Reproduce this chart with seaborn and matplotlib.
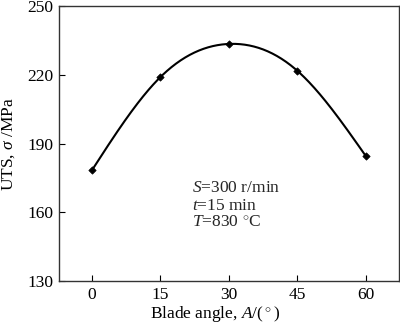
import numpy as np
import pandas as pd
import matplotlib
matplotlib.use("Agg")
import matplotlib.pyplot as plt
import seaborn as sns

# Blade angle (deg) and ultimate tensile strength (MPa)
blade_angle = [0, 15, 30, 45, 60]
uts = [178.3, 219.0, 233.5, 221.8, 184.6]

x_ticks = [0, 15, 30, 45, 60]
y_ticks = [130, 160, 190, 220, 250]


def natural_spline(x, y, xs):
    """Natural cubic spline through (x, y), evaluated at xs."""
    x = np.asarray(x, float)
    y = np.asarray(y, float)
    n = len(x)
    h = np.diff(x)
    A = np.zeros((n, n))
    b = np.zeros(n)
    A[0, 0] = A[-1, -1] = 1.0
    for i in range(1, n - 1):
        A[i, i - 1] = h[i - 1]
        A[i, i] = 2 * (h[i - 1] + h[i])
        A[i, i + 1] = h[i]
        b[i] = 3 * ((y[i + 1] - y[i]) / h[i] - (y[i] - y[i - 1]) / h[i - 1])
    c = np.linalg.solve(A, b)
    out = np.empty_like(xs)
    for k, xv in enumerate(xs):
        i = min(np.searchsorted(x, xv, side="right") - 1, n - 2)
        i = max(i, 0)
        dx = xv - x[i]
        bi = (y[i + 1] - y[i]) / h[i] - h[i] * (2 * c[i] + c[i + 1]) / 3
        di = (c[i + 1] - c[i]) / (3 * h[i])
        out[k] = y[i] + bi * dx + c[i] * dx ** 2 + di * dx ** 3
    return out


sns.set_theme(style="ticks")
plt.rcParams["font.family"] = ["Liberation Serif", "DejaVu Serif"]
plt.rcParams["mathtext.fontset"] = "custom"
plt.rcParams["mathtext.rm"] = "Liberation Serif"
plt.rcParams["mathtext.it"] = "Liberation Serif:italic"

FS = 12.5

points = pd.DataFrame({"angle": blade_angle, "uts": uts})
xs = np.linspace(min(blade_angle), max(blade_angle), 300)
curve = pd.DataFrame({"angle": xs, "uts": natural_spline(blade_angle, uts, xs)})

fig = plt.figure(figsize=(4.0, 3.23), dpi=100)
ax = fig.add_axes([0.1475, 0.130, 0.849, 0.851])

sns.lineplot(data=curve, x="angle", y="uts", ax=ax, color="black", linewidth=1.5)
sns.scatterplot(data=points, x="angle", y="uts", ax=ax, color="black",
                marker="D", s=14, edgecolor="black", linewidth=0.5, zorder=3)

ax.set_xlim(-7.2, 67.2)
ax.set_ylim(130, 250)
ax.set_xticks(x_ticks)
ax.set_yticks(y_ticks)
ax.tick_params(direction="in", length=4, width=0.8, labelsize=FS,
               colors="black", pad=4)
for s in ax.spines.values():
    s.set_color("#333333")
    s.set_linewidth(1.0)

ax.set_xlabel(r"Blade angle, $\mathit{A}$/($\,^{\circ}\,$)", fontsize=FS,
              color="black")
ax.set_ylabel(r"UTS, $\mathit{\sigma}$ /MPa", fontsize=FS, color="black")
ax.xaxis.set_label_coords(0.46, -0.085)
ax.xaxis.label.set_verticalalignment("top")
ax.yaxis.set_label_coords(-0.125, 0.5)

ax.text(21.9, 168.7, r"$\mathit{S}$=300 r/min", fontsize=FS, ha="left")
ax.text(21.9, 161.0, r"$\mathit{t}$=15 min", fontsize=FS, ha="left")
ax.text(21.9, 153.7, r"$\mathit{T}$=830 $^{\circ}$C", fontsize=FS, ha="left")

fig.savefig("out.png", dpi=100)
